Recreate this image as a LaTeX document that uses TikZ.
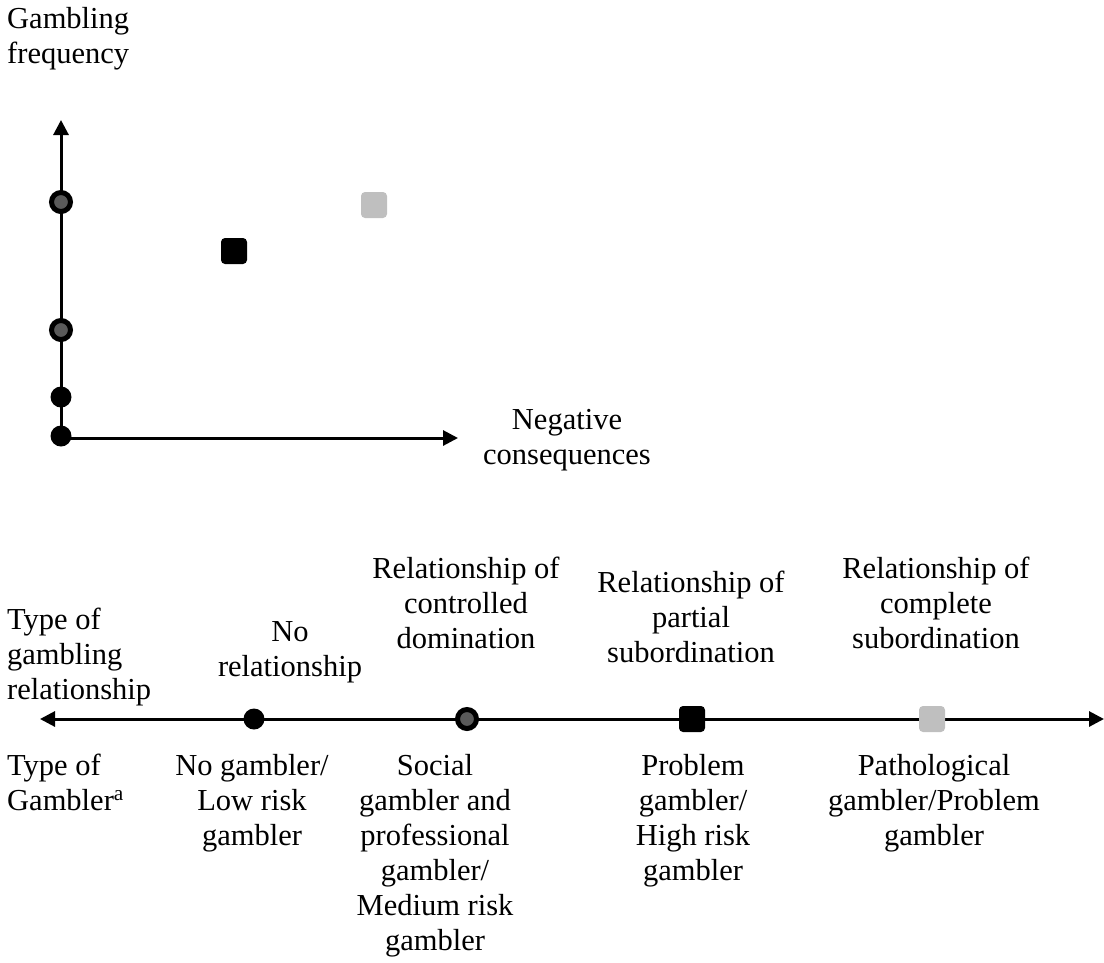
\documentclass[tikz,border=0pt]{standalone}
\usepackage{fontspec}
\setmainfont{Liberation Serif}
\usetikzlibrary{positioning, arrows.meta}
\definecolor{ringfill}{HTML}{5A5A5A}
\definecolor{palemark}{HTML}{BFBFBF}
\begin{document}
\begin{tikzpicture}[
  x=1pt, y=-1pt,
  txt/.style={font=\fontsize{30.5}{35}\selectfont, inner sep=0pt, anchor=base},
  lbl/.style={txt, align=center},
  lft/.style={txt, align=left, anchor=base west},
  axis/.style={line width=3pt, -{Triangle[length=15pt, width=15pt]}},
  ringdot/.style={circle, draw=black, line width=5pt, fill=ringfill,
                  inner sep=0pt, minimum size=19pt},
  fulldot/.style={circle, fill=black, inner sep=0pt, minimum size=21pt},
  darksq/.style={rectangle, rounded corners=4pt, fill=black, inner sep=0pt,
                 minimum size=26pt},
  palesq/.style={darksq, fill=palemark}
]
\useasboundingbox (0,0) rectangle (1104,962);

% frequency / consequences plane
\coordinate (o) at (61,438);
\coordinate (ytip) at (61,120);
\coordinate (xtip) at (458,438);
\draw[axis] (o) -- (ytip);
\draw[axis] (o) -- (xtip);

\node[ringdot] (f3) at (61,202) {};
\node[ringdot] (f2) at (61,330) {};
\node[fulldot] (f1) at (61,397) {};
\node[fulldot] (f0) at (61,436) {};
\node[darksq] (p1) at (234,251) {};
\node[palesq] (p2) at (374,205) {};

% base = last line
\node[lft] (ylab) at (7,63) {Gambling\\frequency};
\node[lbl] (xlab) at (567,464) {Negative\\consequences};

% continuum
\coordinate (lt) at (40,719);
\coordinate (rt) at (1104,719);
\draw[line width=3pt, {Triangle[length=15pt, width=15pt]}-{Triangle[length=15pt, width=15pt]}] (lt) -- (rt);

\node[fulldot] (m1) at (254,719) {};
\node[ringdot] (m2) at (467,719) {};
\node[darksq] (m3) at (692,719) {};
\node[palesq] (m4) at (932,719) {};

\node[lft] (rel) at (7,699) {Type of\\gambling\\relationship};
\node[lbl] (r1) at (290,676) {No\\relationship};
\node[lbl] (r2) at (466,648) {Relationship of\\controlled\\domination};
\node[lbl] (r3) at (691,662) {Relationship of\\partial\\subordination};
\node[lbl] (r4) at (936,648) {Relationship of\\complete\\subordination};

\node[lft] (typ) at (7,810) {Type of\\Gambler\textsuperscript{a}};
\node[lbl] (g1) at (252,845) {No gambler/\\Low risk\\gambler};
\node[lbl] (g2) at (435,950) {Social\\gambler and\\professional\\gambler/\\Medium risk\\gambler};
\node[lbl] (g3) at (693,880) {Problem\\gambler/\\High risk\\gambler};
\node[lbl] (g4) at (934,845) {Pathological\\gambler/Problem\\gambler};
\end{tikzpicture}
\end{document}
